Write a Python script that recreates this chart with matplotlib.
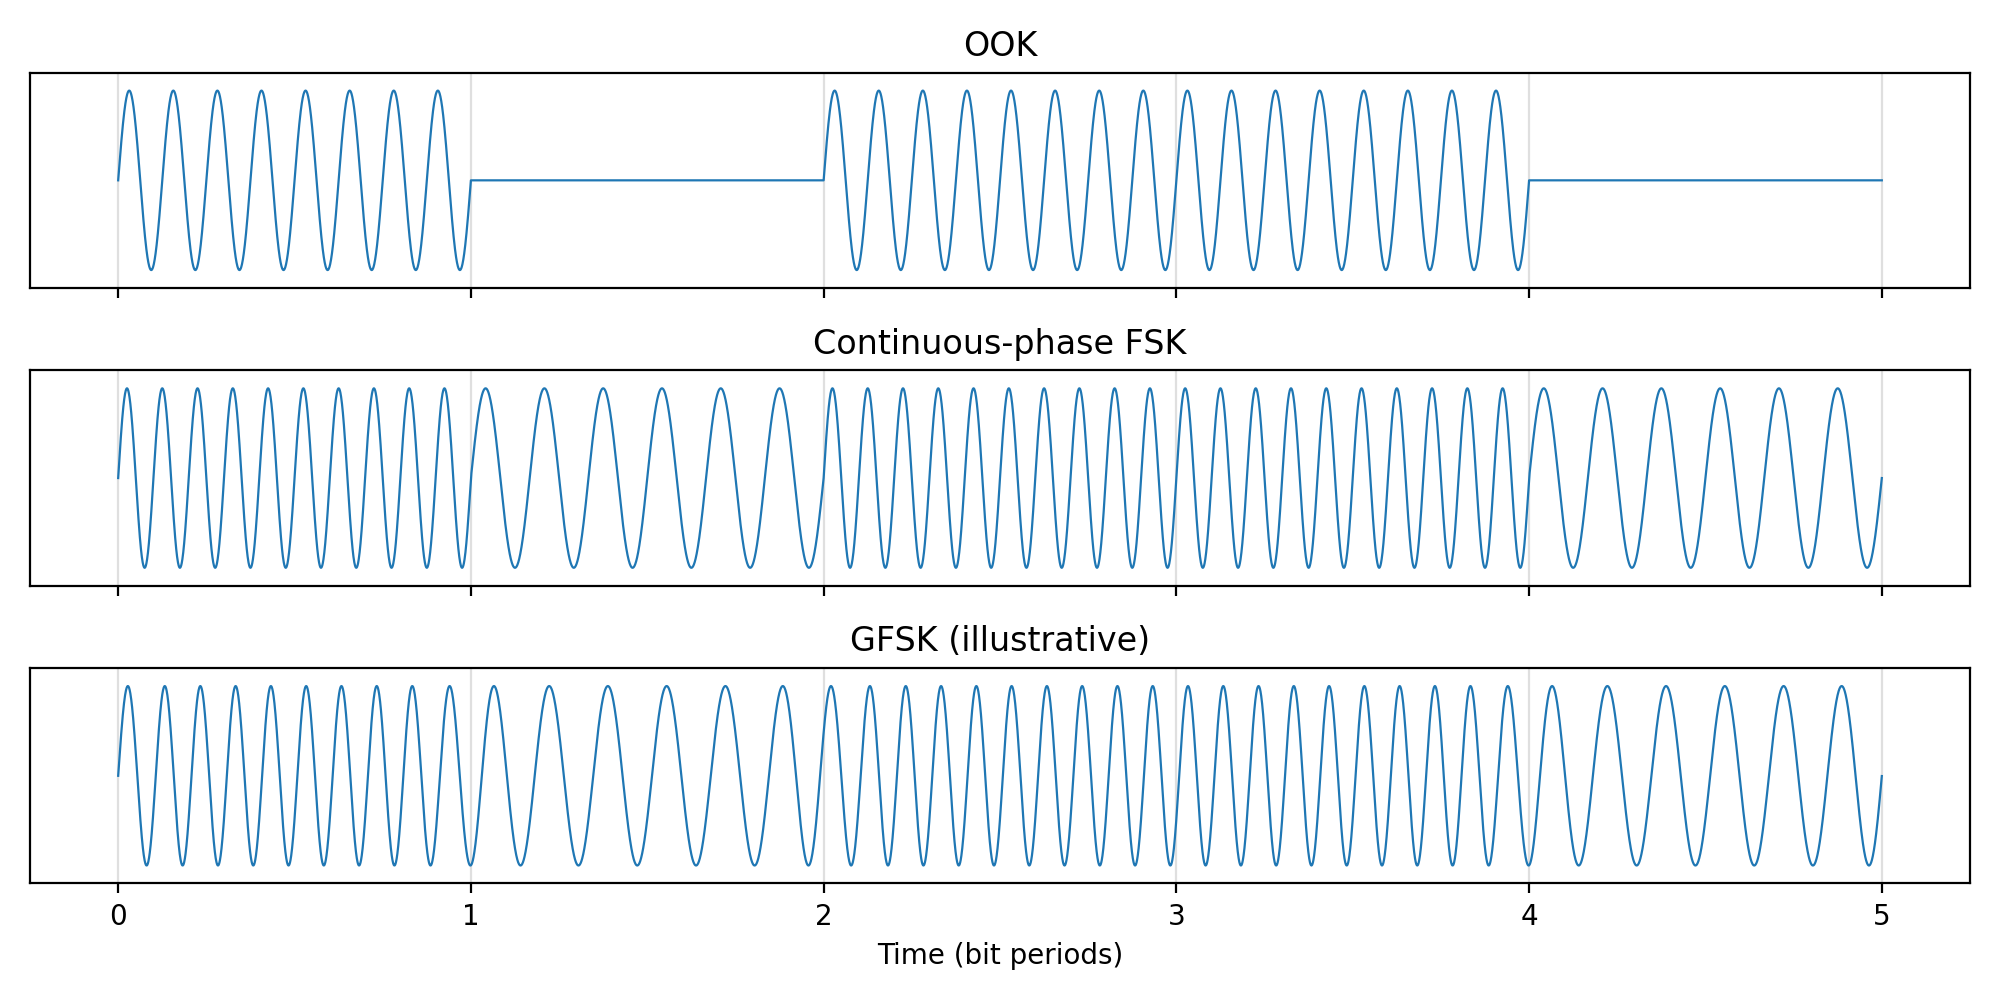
import numpy as np
import matplotlib
matplotlib.use("Agg")
import matplotlib.pyplot as plt

# bit sequence and carrier settings (cycles per bit period)
bits = [1, 0, 1, 1, 0]
f_ook = 8
f_mark = 10
f_space = 6
sigma_bits = 0.1  # gaussian width, in bit periods
titles = ["OOK", "Continuous-phase FSK", "GFSK (illustrative)"]

spb = 2000
n_bits = len(bits)
t = np.arange(n_bits * spb + 1) / spb
bit_idx = np.minimum(t.astype(int), n_bits - 1)
b = np.array(bits)[bit_idx].astype(float)
dt = 1.0 / spb

# OOK
ook = b * np.sin(2 * np.pi * f_ook * t)

# continuous phase FSK
freq = np.where(b > 0, f_mark, f_space).astype(float)
phase = 2 * np.pi * np.concatenate([[0], np.cumsum(freq[:-1]) * dt])
fsk = np.sin(phase)

# GFSK: gaussian filtered NRZ symbols (+1/-1), zero padded at edges
nrz = 2 * b - 1
k = np.arange(-4 * sigma_bits * spb, 4 * sigma_bits * spb + 1) / spb
g = np.exp(-k**2 / (2 * sigma_bits**2))
g /= g.sum()
nrz_f = np.convolve(nrz, g, mode="same")
f_c = (f_mark + f_space) / 2
f_dev = (f_mark - f_space) / 2
freq_g = f_c + f_dev * nrz_f
phase_g = 2 * np.pi * np.concatenate([[0], np.cumsum(freq_g[:-1]) * dt])
gfsk = np.sin(phase_g)

fig, axes = plt.subplots(3, 1, figsize=(10, 5), dpi=200, sharex=True)
for ax, y, title in zip(axes, [ook, fsk, gfsk], titles):
    ax.plot(t, y, lw=0.8)
    ax.set_title(title)
    ax.set_yticks([])
    ax.set_ylim(-1.2, 1.2)
    ax.grid(True, axis="x", alpha=0.4)
axes[-1].set_xlabel("Time (bit periods)")
plt.tight_layout()
plt.savefig("out.png")
